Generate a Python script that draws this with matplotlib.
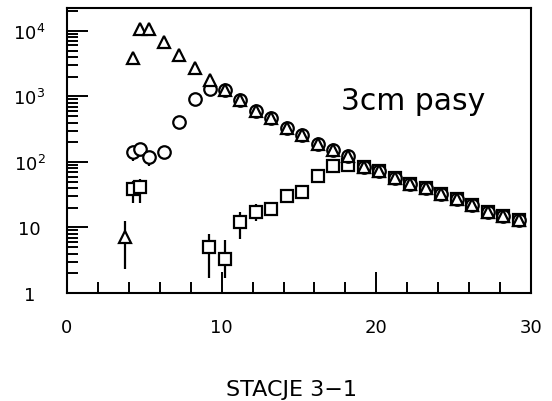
import numpy as np
import matplotlib
matplotlib.use("Agg")
import matplotlib.pyplot as plt
from matplotlib.ticker import FixedLocator, LogLocator, NullFormatter, MultipleLocator

plt.rcParams['font.family'] = ['DejaVu Sans']
plt.rcParams['mathtext.fontset'] = 'dejavusans'

# triangles: all hits
tri_x = [3.75, 4.25, 4.75, 5.3, 6.25, 7.25, 8.25, 9.25, 10.2, 11.2, 12.2, 13.2,
         14.2, 15.2, 16.2, 17.2, 18.2, 19.2, 20.2, 21.2, 22.2, 23.2, 24.2, 25.2,
         26.2, 27.2, 28.2, 29.2]
tri_y = [7.1, 3800, 10700, 10700, 6700, 4350, 2700, 1780, 1240, 870, 610, 470,
         330, 257, 187, 153, 124, 85, 73, 57, 46, 40, 32, 27, 22, 17, 14.8, 13.2]

# circles
circ_x = [4.25, 4.75, 5.3, 6.25, 7.25, 8.25, 9.25, 10.2, 11.2, 12.2, 13.2,
          14.2, 15.2, 16.2, 17.2, 18.2, 19.2, 20.2, 21.2, 22.2, 23.2, 24.2, 25.2,
          26.2, 27.2, 28.2, 29.2]
circ_y = [142, 160, 121, 142, 410, 930, 1320, 1240, 870, 610, 470,
          330, 257, 187, 153, 124, 85, 73, 57, 46, 40, 32, 27, 22, 17, 14.8, 13.2]

# squares
sq_x = [4.25, 4.75, 9.2, 10.2, 11.2, 12.2, 13.2, 14.2, 15.2, 16.2, 17.2, 18.2,
        19.2, 20.2, 21.2, 22.2, 23.2, 24.2, 25.2, 26.2, 27.2, 28.2, 29.2]
sq_y = [38, 41, 5.0, 3.3, 12.3, 17, 19, 30, 35, 61, 87, 90,
        85, 73, 57, 46, 40, 32, 27, 22, 17, 14.8, 13.2]

# error ranges (lower, upper) for the points that carry visible bars
tri_err_x = [3.75]
tri_err_y = [7.1]
tri_err_lo = [2.3]
tri_err_hi = [12.7]

circ_err_x = [4.25, 5.3, 6.25]
circ_err_y = [142, 121, 142]
circ_err_lo = [104, 87, 110]
circ_err_hi = [150, 130, 150]

sq_err_x = [4.25, 4.75, 9.2, 10.2, 11.2, 12.2, 13.2, 14.2, 15.2]
sq_err_y = [38, 41, 5.0, 3.3, 12.3, 17, 19, 30, 35]
sq_err_lo = [24, 23.5, 1.7, 1.7, 6.6, 12.6, 15, 25, 29]
sq_err_hi = [51, 55, 7.9, 6.5, 17, 22.7, 23, 36, 41]

y_ticks = [1, 10, 100, 1000, 10000]
y_ticklabels = ['1', '10', r'$10^{2}$', r'$10^{3}$', r'$10^{4}$']
x_ticks = [0, 10, 20, 30]

fig = plt.figure(figsize=(5.52, 4.02), dpi=100)
ax = fig.add_axes([67 / 552, 1 - 294 / 402, 464 / 552, 285 / 402])

lw = 1.6
for ex, ey, lo, hi in [(tri_err_x, tri_err_y, tri_err_lo, tri_err_hi),
                       (circ_err_x, circ_err_y, circ_err_lo, circ_err_hi),
                       (sq_err_x, sq_err_y, sq_err_lo, sq_err_hi)]:
    ey = np.array(ey)
    yerr = [ey - np.array(lo), np.array(hi) - ey]
    ax.errorbar(ex, ey, yerr=yerr, fmt='none', ecolor='black', elinewidth=lw,
                capsize=0, zorder=1)

ax.plot(sq_x, sq_y, 's', ms=9, mfc='white', mec='black', mew=lw, zorder=2)
ax.plot(circ_x, circ_y, 'o', ms=9, mfc='white', mec='black', mew=lw, zorder=3)
ax.plot(tri_x, tri_y, '^', ms=9, mfc='white', mec='black', mew=lw, zorder=4)

ax.set_yscale('log')
ax.set_xlim(0, 30)
ax.set_ylim(1, 10 ** 4.35)

ax.yaxis.set_major_locator(FixedLocator(y_ticks))
ax.set_yticklabels(y_ticklabels)
ax.yaxis.set_minor_locator(LogLocator(base=10, subs=np.arange(2, 10)))
ax.yaxis.set_minor_formatter(NullFormatter())
ax.xaxis.set_major_locator(FixedLocator(x_ticks))
ax.xaxis.set_minor_locator(MultipleLocator(2))

ax.tick_params(which='both', direction='in', top=False, right=False,
               width=1.4, labelsize=13)
ax.tick_params(which='major', length=15)
ax.tick_params(which='minor', length=8)
ax.tick_params(axis='x', which='major', pad=18)
ax.tick_params(axis='y', which='major', pad=27)
for lab in ax.get_yticklabels():
    lab.set_horizontalalignment('center')

for sp in ax.spines.values():
    sp.set_linewidth(1.5)

ax.text(0.59, 0.6456, '3cm pasy', transform=ax.transAxes, fontsize=21.5,
        va='baseline', ha='left')

fig.text(292 / 552, 1 - 390 / 402, 'STACJE 3\u22121', fontsize=16,
         ha='center', va='center')

fig.savefig('out.png', dpi=100)
